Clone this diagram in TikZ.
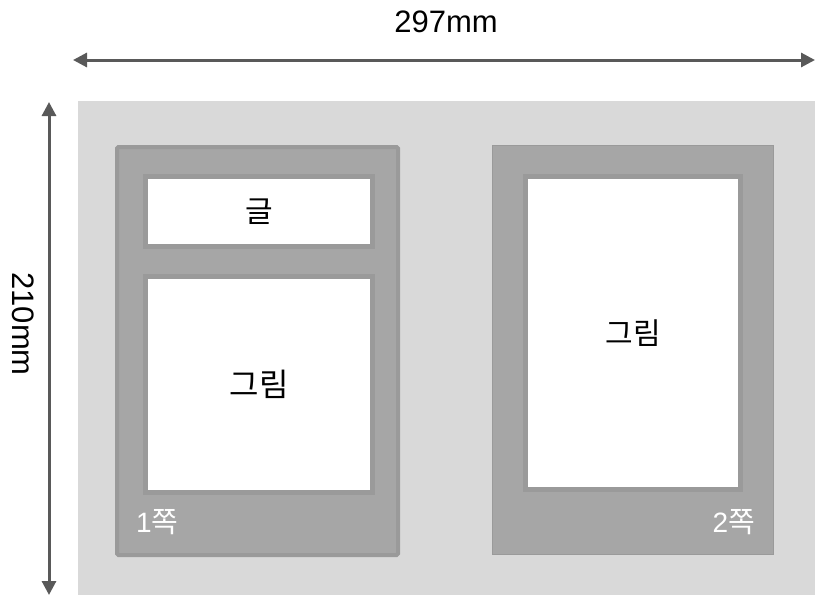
\documentclass[tikz,border=0pt]{standalone}
\usepackage{fontspec}
\setmainfont{Liberation Sans}
\newfontfamily\kr{Noto Sans CJK KR}
\usetikzlibrary{arrows.meta,positioning}
\definecolor{sheetgray}{HTML}{D9D9D9}
\definecolor{pagegray}{HTML}{A6A6A6}
\definecolor{rimgray}{HTML}{9A9A9A}
\definecolor{arrowgray}{HTML}{595959}
\tikzstyle{every picture}+=[x=1pt,y=-1pt]
\tikzstyle{every picture}+=[>={Triangle[length=14pt,width=14pt]}]
\tikzstyle{sheet}=[fill=sheetgray, draw=none, inner sep=0pt, anchor=north west]
\tikzstyle{page}=[fill=pagegray, draw=rimgray, inner sep=0pt]
\tikzstyle{box}=[fill=white, draw=rimgray, line width=5pt, inner sep=0pt]
\tikzstyle{dim}=[<->, draw=arrowgray, fill=arrowgray, line width=3pt]
\tikzstyle{dimtext}=[inner sep=0pt, font=\fontsize{31}{33}\selectfont]
\tikzstyle{pagenum}=[text=white, inner sep=0pt, font=\fontsize{28}{30}\selectfont]
\newcommand{\jjok}{{\kr\fontsize{29}{31}\selectfont 쪽}}

\begin{document}
\begin{tikzpicture}
\useasboundingbox (0,0) rectangle (815,595);
\node[sheet, minimum width=737pt, minimum height=494pt] (sheet) at (78,101) {};

% page 1
\node[page, line width=4pt, rounded corners=1.5pt, minimum width=281pt, minimum height=408pt] (page1) at (257.5,351) {};
\node[box, minimum width=227pt, minimum height=70pt] (text1) at (259,211.5) {\kr\fontsize{30}{32}\selectfont 글};
\node[box, minimum width=227pt, minimum height=216pt] (pic1) at (259,384.5) {\kr\fontsize{32}{34}\selectfont 그림};
\node[pagenum, anchor=base west] (num1) at (136,532) {1\jjok};

% page 2
\node[page, line width=1pt, minimum width=281pt, minimum height=409pt] (page2) at (632.5,350) {};
\node[box, minimum width=215pt, minimum height=313pt] (pic2) at (633,333) {\kr\fontsize{30}{32}\selectfont 그림};
\node[pagenum, anchor=base east] (num2) at (755,532) {2\jjok};

% dimensions
\coordinate (wl) at (73,60);
\coordinate (wr) at (815,60);
\coordinate (ht) at (49,102);
\coordinate (hb) at (49,595);
\draw[dim] (wl) -- (wr);
\draw[dim] (ht) -- (hb);
\node[dimtext] (width) at (446,22) {297mm};
\node[dimtext, rotate=-90] (height) at (23,324) {210mm};
\end{tikzpicture}
\end{document}
